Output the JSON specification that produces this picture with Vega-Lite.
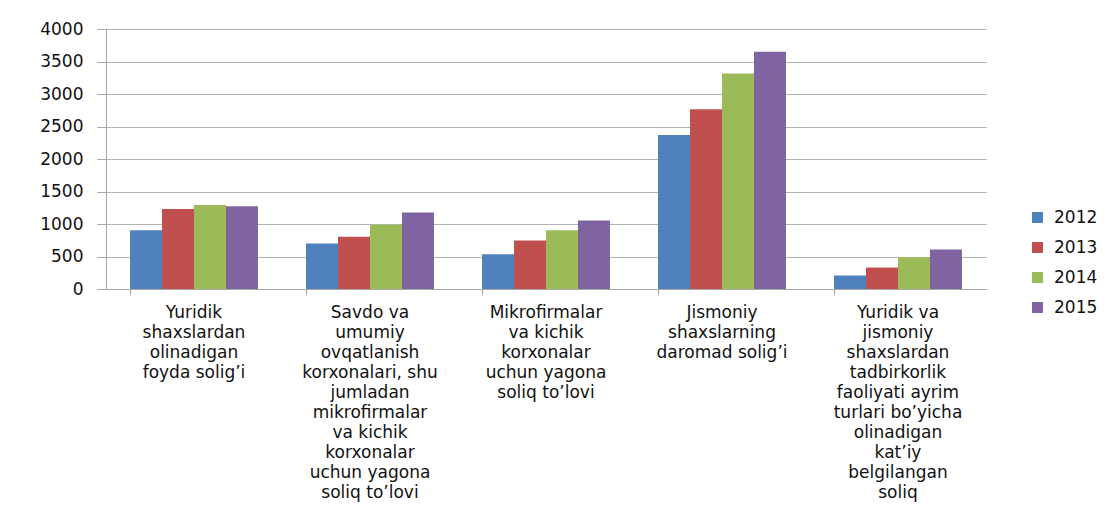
{
  "$schema": "https://vega.github.io/schema/vega-lite/v6.json",
  "autosize": {"type": "none"},
  "padding": {"left": 106, "top": 29, "right": 132, "bottom": 219},
  "width": 880,
  "height": 260,
  "background": "white",
  "config": {
    "view": {"stroke": null},
    "font": "DejaVu Sans"
  },
  "data": {
    "values": [
      {"category": "Yuridik shaxslardan olinadigan foyda solig’i", "year": "2012", "value": 905},
      {"category": "Yuridik shaxslardan olinadigan foyda solig’i", "year": "2013", "value": 1229},
      {"category": "Yuridik shaxslardan olinadigan foyda solig’i", "year": "2014", "value": 1291},
      {"category": "Yuridik shaxslardan olinadigan foyda solig’i", "year": "2015", "value": 1275},
      {"category": "Savdo va umumiy ovqatlanish korxonalari, shu jumladan mikrofirmalar va kichik korxonalar uchun yagona soliq to’lovi", "year": "2012", "value": 700},
      {"category": "Savdo va umumiy ovqatlanish korxonalari, shu jumladan mikrofirmalar va kichik korxonalar uchun yagona soliq to’lovi", "year": "2013", "value": 802},
      {"category": "Savdo va umumiy ovqatlanish korxonalari, shu jumladan mikrofirmalar va kichik korxonalar uchun yagona soliq to’lovi", "year": "2014", "value": 990},
      {"category": "Savdo va umumiy ovqatlanish korxonalari, shu jumladan mikrofirmalar va kichik korxonalar uchun yagona soliq to’lovi", "year": "2015", "value": 1178},
      {"category": "Mikrofirmalar va kichik korxonalar uchun yagona soliq to’lovi", "year": "2012", "value": 535},
      {"category": "Mikrofirmalar va kichik korxonalar uchun yagona soliq to’lovi", "year": "2013", "value": 746},
      {"category": "Mikrofirmalar va kichik korxonalar uchun yagona soliq to’lovi", "year": "2014", "value": 905},
      {"category": "Mikrofirmalar va kichik korxonalar uchun yagona soliq to’lovi", "year": "2015", "value": 1055},
      {"category": "Jismoniy shaxslarning daromad solig’i", "year": "2012", "value": 2370},
      {"category": "Jismoniy shaxslarning daromad solig’i", "year": "2013", "value": 2766},
      {"category": "Jismoniy shaxslarning daromad solig’i", "year": "2014", "value": 3316},
      {"category": "Jismoniy shaxslarning daromad solig’i", "year": "2015", "value": 3650},
      {"category": "Yuridik va jismoniy shaxslardan tadbirkorlik faoliyati ayrim turlari bo’yicha olinadigan kat’iy belgilangan soliq", "year": "2012", "value": 206},
      {"category": "Yuridik va jismoniy shaxslardan tadbirkorlik faoliyati ayrim turlari bo’yicha olinadigan kat’iy belgilangan soliq", "year": "2013", "value": 330},
      {"category": "Yuridik va jismoniy shaxslardan tadbirkorlik faoliyati ayrim turlari bo’yicha olinadigan kat’iy belgilangan soliq", "year": "2014", "value": 489},
      {"category": "Yuridik va jismoniy shaxslardan tadbirkorlik faoliyati ayrim turlari bo’yicha olinadigan kat’iy belgilangan soliq", "year": "2015", "value": 607}
    ]
  },
  "mark": {"type": "bar"},
  "encoding": {
    "x": {
      "field": "category",
      "type": "nominal",
      "sort": null,
      "scale": {"paddingInner": 0.273, "paddingOuter": 0.1365},
      "axis": {
        "title": null,
        "labelAngle": 0,
        "bandPosition": 0,
        "ticks": true,
        "tickSize": 6,
        "tickColor": "#A6A6A6",
        "domainColor": "#A6A6A6",
        "labelPadding": 9,
        "labelFontSize": 17,
        "labelColor": "#111111",
        "labelFont": "DejaVu Sans",
        "labelLineHeight": 20,
        "labelLimit": 240,
        "labelOverlap": false,
        "labelBound": false,
        "labelBaseline": "top",
        "labelExpr": "datum.value == 'Yuridik shaxslardan olinadigan foyda solig’i' ? ['Yuridik','shaxslardan','olinadigan','foyda solig’i'] : datum.value == 'Mikrofirmalar va kichik korxonalar uchun yagona soliq to’lovi' ? ['Mikrofirmalar','va kichik','korxonalar','uchun yagona','soliq to’lovi'] : datum.value == 'Jismoniy shaxslarning daromad solig’i' ? ['Jismoniy','shaxslarning','daromad solig’i'] : datum.value == 'Yuridik va jismoniy shaxslardan tadbirkorlik faoliyati ayrim turlari bo’yicha olinadigan kat’iy belgilangan soliq' ? ['Yuridik va','jismoniy','shaxslardan','tadbirkorlik','faoliyati ayrim','turlari bo’yicha','olinadigan','kat’iy','belgilangan','soliq'] : ['Savdo va','umumiy','ovqatlanish','korxonalari, shu','jumladan','mikrofirmalar','va kichik','korxonalar','uchun yagona','soliq to’lovi']"
      }
    },
    "xOffset": {"field": "year", "type": "nominal", "scale": {"paddingInner": 0, "paddingOuter": 0}},
    "y": {
      "field": "value",
      "type": "quantitative",
      "scale": {"domain": [0, 4000], "nice": false},
      "axis": {
        "title": null,
        "format": "d",
        "values": [0, 500, 1000, 1500, 2000, 2500, 3000, 3500, 4000],
        "grid": true,
        "gridColor": "#B3B3B3",
        "gridWidth": 1,
        "domain": true,
        "domainColor": "#A6A6A6",
        "tickColor": "#A6A6A6",
        "tickSize": 9,
        "labelPadding": 14,
        "labelFontSize": 17,
        "labelColor": "#111111",
        "labelFont": "DejaVu Sans"
      }
    },
    "color": {
      "field": "year",
      "type": "nominal",
      "scale": {"domain": ["2012", "2013", "2014", "2015"], "range": ["#4F81BD", "#C0504D", "#9BBB59", "#8064A2"]},
      "legend": {
        "title": null,
        "orient": "none",
        "legendX": 923,
        "legendY": 180,
        "padding": 0,
        "symbolType": "square",
        "symbolSize": 120,
        "symbolStrokeWidth": 0,
        "labelFontSize": 17,
        "labelFont": "DejaVu Sans",
        "labelColor": "#111111",
        "labelOffset": 8,
        "rowPadding": 12
      }
    }
  }
}
